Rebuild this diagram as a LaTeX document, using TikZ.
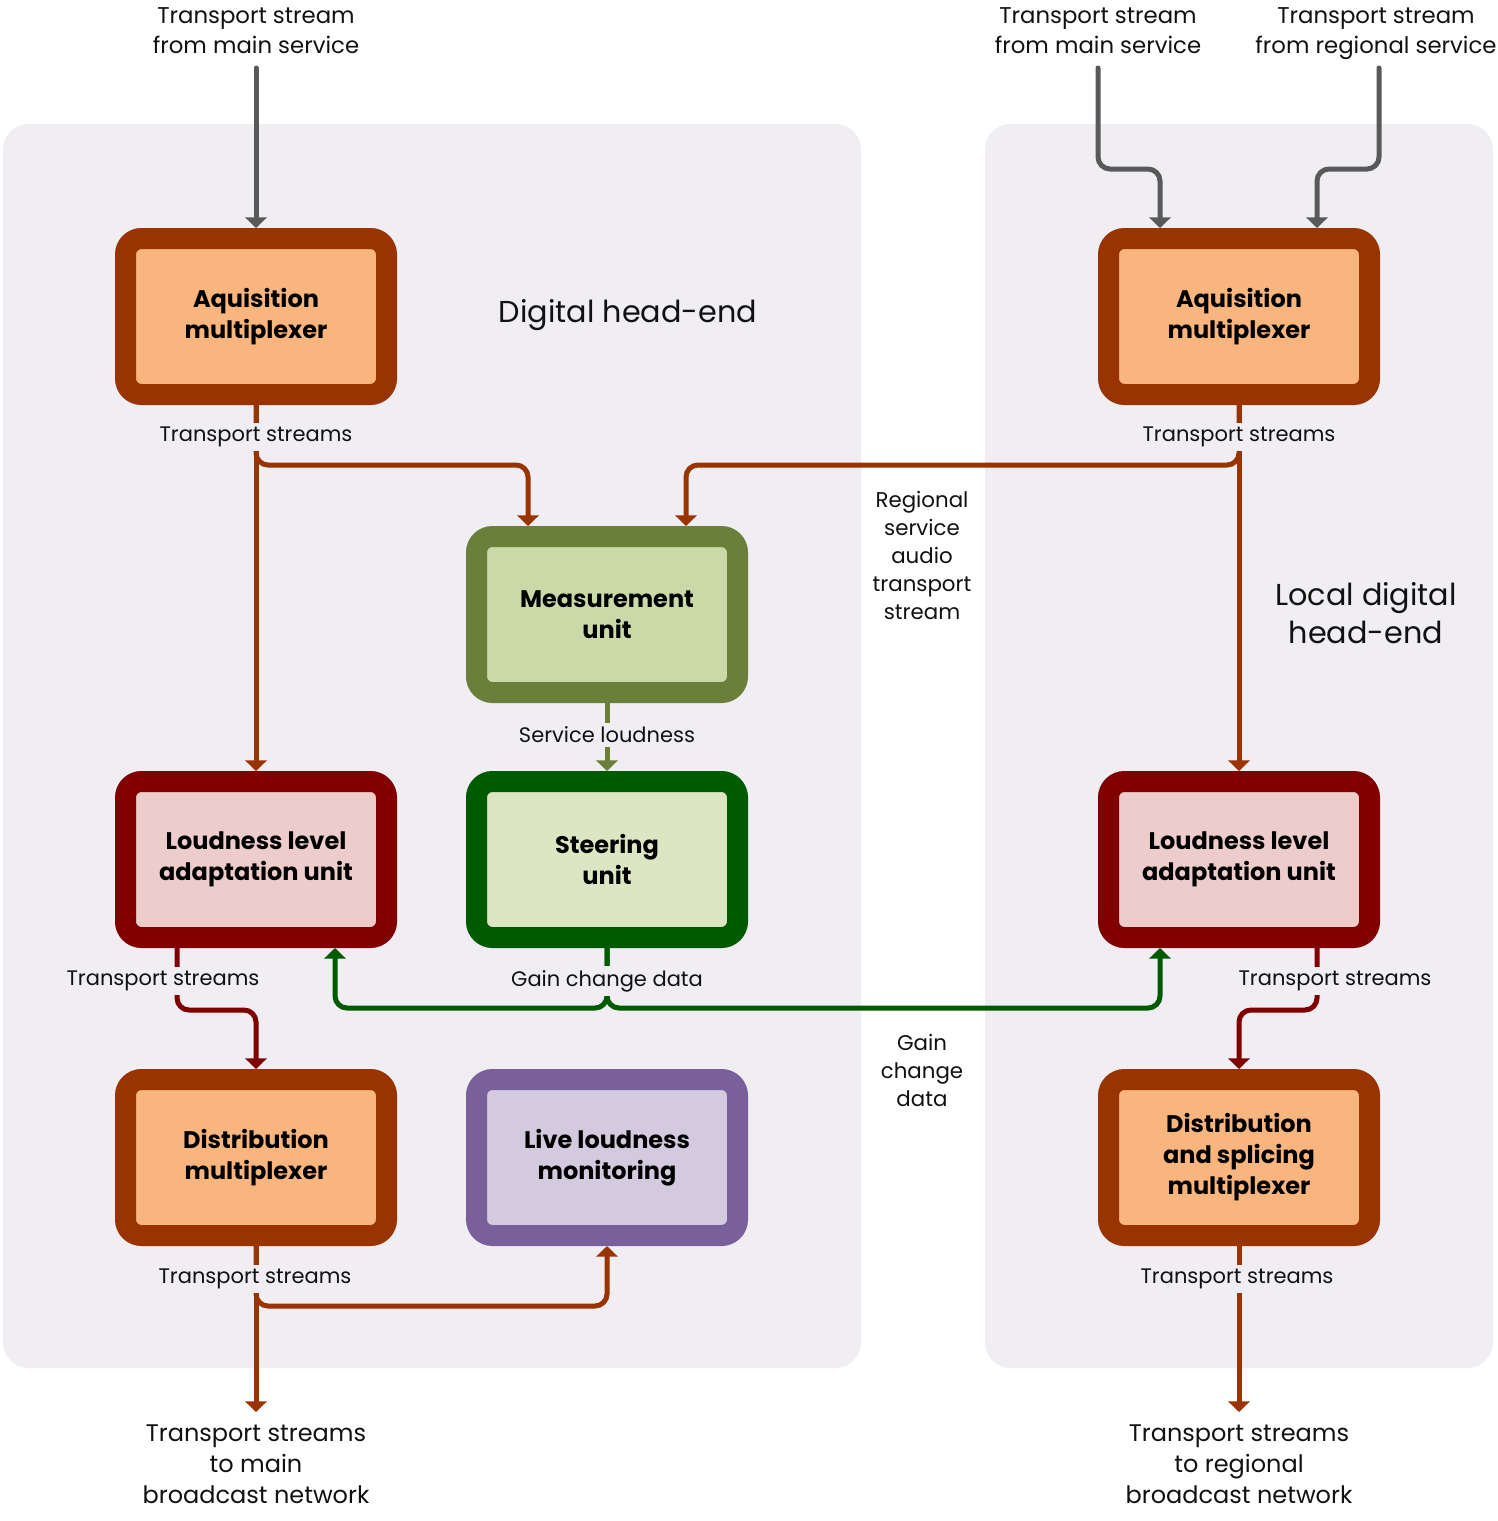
\documentclass[tikz,border=0pt]{standalone}
\usepackage{fontspec}
\setmainfont{Poppins}
\usetikzlibrary{arrows.meta,calc}
\definecolor{panel}{HTML}{F0EEF3}
\definecolor{rust}{HTML}{993300}
\definecolor{peach}{HTML}{F8B57E}
\definecolor{olive}{HTML}{6A7F3A}
\definecolor{lolive}{HTML}{CAD9A8}
\definecolor{dgreen}{HTML}{005A00}
\definecolor{lgreen}{HTML}{DCE6C3}
\definecolor{maroon}{HTML}{800000}
\definecolor{pinkf}{HTML}{EDCCCC}
\definecolor{purp}{HTML}{7A609A}
\definecolor{lpurp}{HTML}{D3CADF}
\definecolor{greyline}{HTML}{595959}
\definecolor{ink}{HTML}{111111}
\begin{document}
\begin{tikzpicture}[x=0.75pt,y=-0.75pt,
  box/.style={rounded corners=12pt, line width=15.75pt, minimum width=195.75pt,
    minimum height=117pt, align=center, inner sep=0pt, text=black,
    font=\bfseries\fontsize{18}{23.25}\selectfont},
  conn/.style={line width=3.75pt, rounded corners=9pt, -{Triangle[width=16pt,length=8pt]}},
  lab/.style={fill=panel, inner xsep=1pt, inner ysep=3pt, text=ink,
    font=\fontsize{15.75}{21}\selectfont},
  mid/.style={align=center, text=ink, font=\fontsize{16}{21}\selectfont},
  toptext/.style={align=center, text=ink, font=\fontsize{17.1}{22.5}\selectfont, inner sep=0pt},
  bottext/.style={align=center, text=ink, font=\fontsize{18}{23.6}\selectfont, inner sep=0pt},
  big/.style={align=center, text=ink, font=\fontsize{22.7}{28}\selectfont}
]
\useasboundingbox (0,0) rectangle (1498,1521);
% panels
\fill[panel, rounded corners=19pt] (3,124) rectangle (861,1368);
\fill[panel, rounded corners=19pt] (985,124) rectangle (1493,1368);

% boxes
\node[box, draw=rust, fill=peach] (acqL) at (256,316.5) {Aquisition\\multiplexer};
\node[box, draw=olive, fill=lolive] (meas) at (607,614.5) {Measurement\\unit};
\node[box, draw=maroon, fill=pinkf] (loudL) at (256,859.5) {Loudness level\\adaptation unit};
\node[box, draw=dgreen, fill=lgreen] (steer) at (607,859.5) {Steering\\unit};
\node[box, draw=rust, fill=peach] (distL) at (256,1157.5) {Distribution\\multiplexer};
\node[box, draw=purp, fill=lpurp] (live) at (607,1157.5) {Live loudness\\monitoring};
\node[box, draw=rust, fill=peach] (acqR) at (1239,316.5) {Aquisition\\multiplexer};
\node[box, draw=maroon, fill=pinkf] (loudR) at (1239,859.5) {Loudness level\\adaptation unit};
\node[box, draw=rust, fill=peach] (distR) at (1239,1157.5) {Distribution\\and splicing\\multiplexer};

% outer texts
\node[toptext] (srcL) at (256,31) {Transport stream\\from main service};
\node[toptext] (srcR1) at (1098,31) {Transport stream\\from main service};
\node[toptext] (srcR2) at (1376,34) {Transport stream\\from regional service};
\node[bottext, anchor=north] (outL) at (256,1424) {Transport streams\\to main\\broadcast network};
\node[bottext, anchor=north] (outR) at (1239,1424) {Transport streams\\to regional\\broadcast network};

% grey inputs
\draw[conn, greyline, line cap=round] (srcL.south |- 0,68) -- (acqL.north);
\draw[conn, greyline, line cap=round] ($(acqR.north)+(-141,-160)$) |- ($(acqR.north)+(-79,-59)$) -- ($(acqR.north)+(-79,0)$);
\draw[conn, greyline, line cap=round] ($(acqR.north)+(140,-160)$) |- ($(acqR.north)+(78,-59)$) -- ($(acqR.north)+(78,0)$);

% rust from acquisition
\draw[conn, rust] (acqL.south) -- (loudL.north);
\draw[conn, rust] (acqL.south) |- ($(meas.north)+(-79,-61)$) -- ($(meas.north)+(-79,0)$);
\draw[conn, rust] (acqR.south) -- (loudR.north);
\draw[conn, rust] (acqR.south) |- ($(meas.north)+(79,-61)$) -- ($(meas.north)+(79,0)$);

% service loudness
\draw[conn, olive] (meas.south) -- (steer.north);

% gain change data
\draw[conn, dgreen] (steer.south) |- ($(loudL.south)+(79,60)$) -- ($(loudL.south)+(79,0)$);
\draw[conn, dgreen] (steer.south) |- ($(loudR.south)+(-79,60)$) -- ($(loudR.south)+(-79,0)$);

% loudness to distribution
\draw[conn, maroon] ($(loudL.south)+(-79,0)$) |- ($(distL.north)+(0,-59)$) -- (distL.north);
\draw[conn, maroon] ($(loudR.south)+(78,0)$) |- ($(distR.north)+(0,-59)$) -- (distR.north);

% distribution outputs
\draw[conn, rust, shorten >=9pt] (distL.south) -- (outL.north);
\draw[conn, rust] (distL.south) |- ($(live.south)+(0,60)$) -- (live.south);
\draw[conn, rust, shorten >=9pt] (distR.south) -- (outR.north);

% connector labels
\node[lab] (t1) at (256,437) {Transport streams};
\node[lab] (t2) at (1239,437) {Transport streams};
\node[lab] (t3) at (607,735) {Service loudness};
\node[lab] (t4) at (607,981) {Gain change data};
\node[lab] (t5) at (163,981) {Transport streams};
\node[lab] (t6) at (1335,981) {Transport streams};
\node[lab] (t7) at (255,1279) {Transport streams};
\node[lab] (t8) at (1237,1279) {Transport streams};

% free texts
\node[big] (dhe) at (628,315) {Digital head-end};
\node[big] (ldhe) at (1366,613) {Local digital\\head-end};
\node[mid] (reg) at (922,555) {Regional\\service\\audio\\transport\\stream};
\node[mid] (gcd) at (922,1070) {Gain\\change\\data};
\end{tikzpicture}
\end{document}
